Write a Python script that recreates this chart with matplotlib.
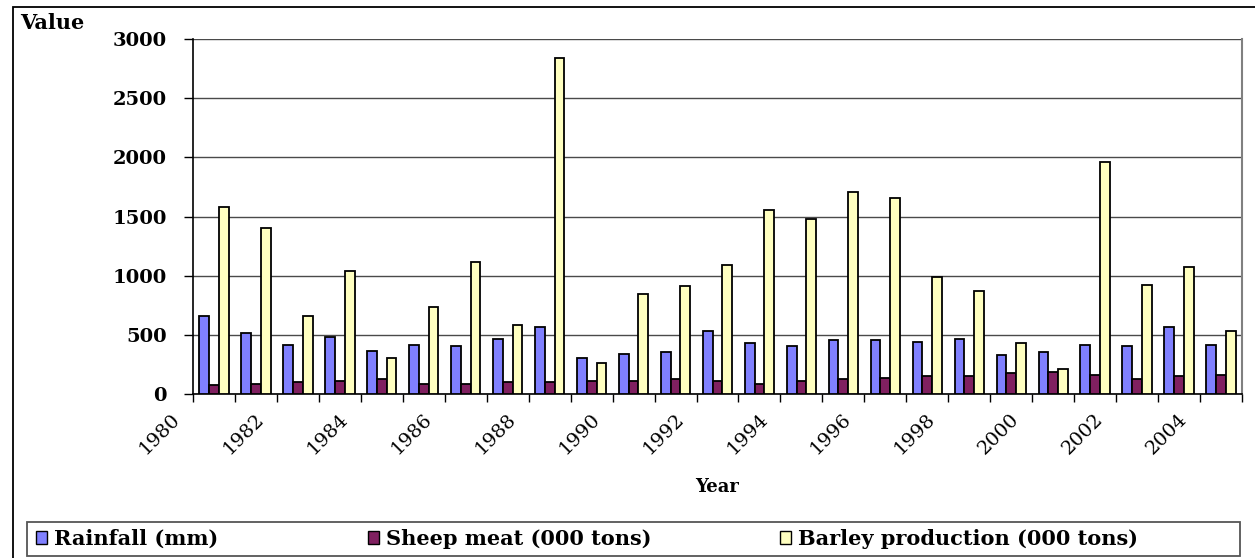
"""
Grouped bar chart of rainfall, sheep meat and barley production by year.
"""

import matplotlib.pyplot as plt
import matplotlib.transforms as mtransforms
from matplotlib.patches import Patch, Rectangle
import numpy as np

YEARS = list(range(1980, 2005))
RAINFALL = [657, 518, 417, 479, 366, 417, 403, 468, 569, 302, 341, 352, 532,
            428, 403, 453, 453, 442, 468, 327, 352, 417, 403, 569, 417]
SHEEP_MEAT = [76, 87, 99, 113, 127, 87, 87, 101, 101, 113, 113, 127, 113,
              87, 113, 127, 138, 152, 152, 175, 189, 164, 127, 152, 164]
BARLEY = [1583, 1405, 657, 1037, 302, 732, 1113, 580, 2837, 265, 848, 913, 1087,
          1558, 1482, 1707, 1656, 986, 873, 428, 214, 1961, 924, 1076, 532]

SERIES_NAMES = ["Rainfall (mm)", "Sheep meat (000 tons)", "Barley production (000 tons)"]
COLORS = ["#8080FF", "#802060", "#FFFFC0"]

W, H = 1255, 558
FONT = "DejaVu Serif"


def main() -> None:
    fig = plt.figure(figsize=(W / 100, H / 100), dpi=100)
    ax = fig.add_axes([193 / W, 1 - 394 / H, 1049 / W, 355 / H])

    x = np.arange(len(YEARS))
    bar_w = 0.233
    for i, (vals, color, name) in enumerate(zip([RAINFALL, SHEEP_MEAT, BARLEY], COLORS, SERIES_NAMES)):
        ax.bar(x + (i - 1) * bar_w, vals, bar_w, color=color, edgecolor="black",
               linewidth=1.3, label=name, zorder=3)

    ax.set_xlim(-0.5, len(YEARS) - 0.5)
    ax.set_ylim(0, 3000)

    # y axis: gridlines every 500
    ax.set_yticks(np.arange(0, 3001, 500))
    ax.set_yticklabels([str(v) for v in range(0, 3001, 500)],
                       fontfamily=FONT, fontweight="bold", fontsize=14)
    ax.yaxis.grid(True, color="#4a4a4a", linewidth=1.0, zorder=0)
    ax.tick_params(axis="y", direction="out", length=6.5, width=1.0, pad=12.5)

    # x axis: tick marks on category boundaries, labels every other year
    ax.set_xticks(np.arange(-0.5, len(YEARS), 1))
    ax.set_xticklabels([])
    ax.tick_params(axis="x", direction="out", length=6, width=1.0)
    label_trans = mtransforms.offset_copy(ax.get_xaxis_transform(), fig=fig,
                                          x=-22, y=-16, units="dots")
    for k in range(0, len(YEARS), 2):
        ax.text(k - 0.5, 0, str(YEARS[k]), transform=label_trans,
                rotation=45, rotation_mode="anchor", ha="right", va="top",
                fontfamily=FONT, fontsize=14)

    ax.spines["top"].set_visible(False)
    ax.spines["right"].set_color("#808080")
    ax.spines["right"].set_linewidth(1.5)
    ax.spines["left"].set_linewidth(1.2)
    ax.spines["bottom"].set_linewidth(1.2)

    fig.text(717 / W, 1 - 487 / H, "Year", ha="center", va="center",
             fontfamily=FONT, fontweight="bold", fontsize=13)
    fig.text(20 / W, 1 - 23 / H, "Value", ha="left", va="center",
             fontfamily=FONT, fontweight="bold", fontsize=15)

    # outer chart frame
    fig.add_artist(Rectangle((13 / W, -0.1), 2, 1 - 7 / H + 0.1, fill=False,
                             edgecolor="black", linewidth=1.3,
                             transform=fig.transFigure))

    # legend box with one entry per series at fixed positions
    fig.add_artist(Rectangle((27 / W, 1 - 556 / H), 1213 / W, 34 / H, fill=False,
                             edgecolor="#555555", linewidth=1.3,
                             transform=fig.transFigure))
    entry_x = [36, 368, 780]
    for xpos, color, name in zip(entry_x, COLORS, SERIES_NAMES):
        handle = Patch(facecolor=color, edgecolor="black", linewidth=1.0, label=name)
        fig.legend(handles=[handle], loc="center left",
                   bbox_to_anchor=(xpos / W, 1 - 539 / H),
                   prop={"family": FONT, "weight": "bold", "size": 15},
                   frameon=False, borderaxespad=0, borderpad=0,
                   handlelength=0.55, handleheight=0.55, handletextpad=0.3)

    fig.savefig("out.png", dpi=100)
    plt.close(fig)


if __name__ == "__main__":
    main()
